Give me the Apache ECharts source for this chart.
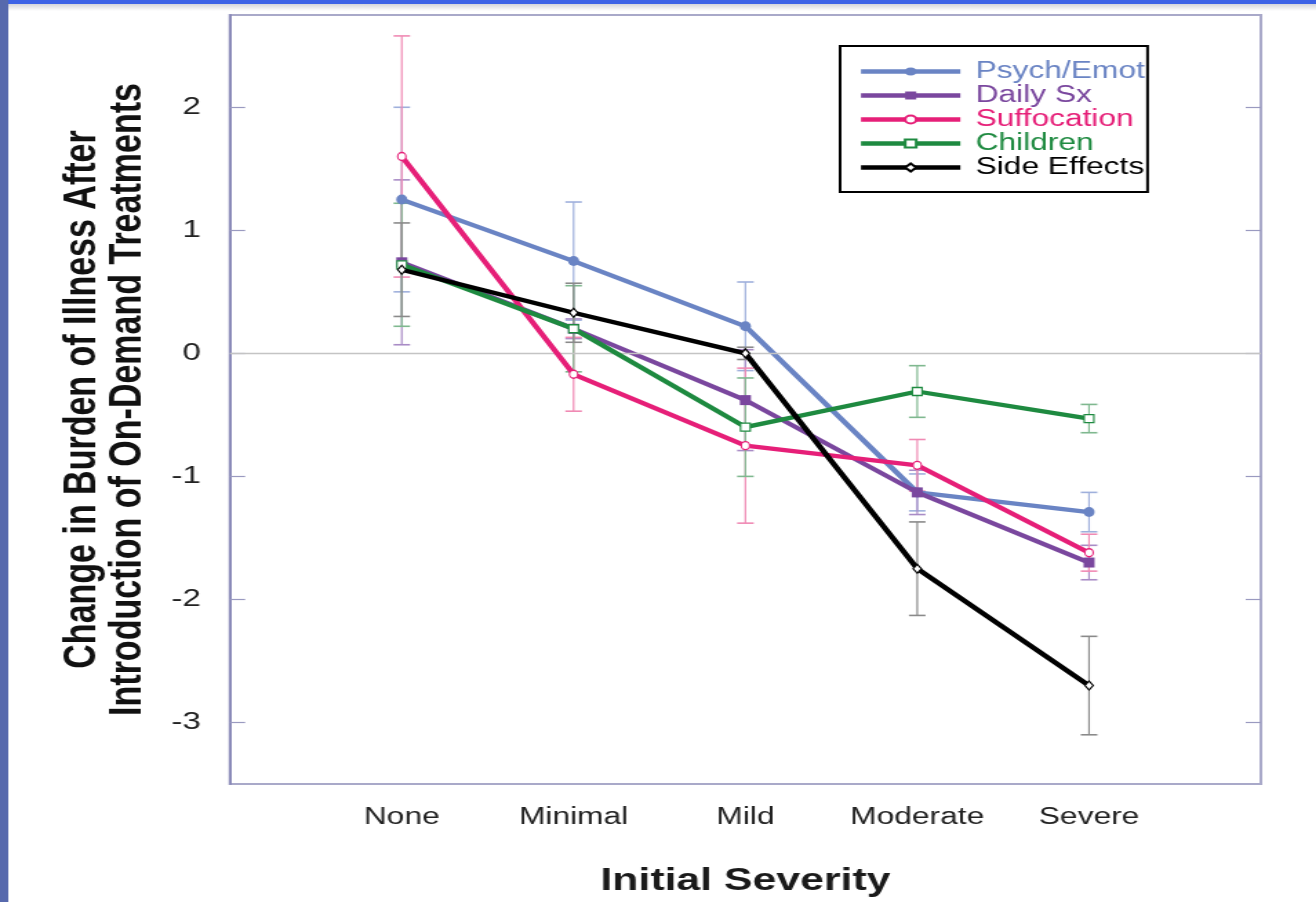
<!DOCTYPE html>
<html>
<head>
<meta charset="utf-8">
<script src="https://cdn.jsdelivr.net/npm/echarts@6/dist/echarts.min.js"></script>
<style>
html,body{margin:0;padding:0;background:#fff;overflow:hidden;width:1316px;height:902px}
#c{width:954px;height:902px;transform:scaleX(1.3795);transform-origin:0 0}
</style>
</head>
<body>
<div id="c"></div>
<script>
const categories = ['None', 'Minimal', 'Mild', 'Moderate', 'Severe'];
const yTicks = [-3, -2, -1, 0, 1, 2];
const seriesNames = ['Psych/Emot', 'Daily Sx', 'Suffocation', 'Children', 'Side Effects'];
const psych = [1.25, 0.75, 0.22, -1.13, -1.29];
const psychErr = [0.75, 0.48, 0.36, 0.15, 0.16];
const daily = [0.74, 0.20, -0.38, -1.13, -1.70];
const dailyErr = [0.67, 0.08, 0.41, 0.18, 0.14];
const suff = [1.60, -0.17, -0.75, -0.91, -1.62];
const suffErr = [0.98, 0.30, 0.63, 0.21, 0.15];
const children = [0.72, 0.20, -0.60, -0.31, -0.53];
const childErr = [0.50, 0.35, 0.40, 0.21, 0.115];
const side = [0.68, 0.33, 0.00, -1.75, -2.70];
const sideErr = [0.38, 0.24, 0.05, 0.38, 0.40];

const values = [psych, daily, suff, children, side];
const errs = [psychErr, dailyErr, suffErr, childErr, sideErr];
const colors = ['#6a84c4', '#7a479e', '#e61f78', '#1e8a40', '#000000'];
const errColors = ['#9fb0dc', '#a98cc6', '#f08ab4', '#7fb88f', '#8a8a8a'];
const symbols = ['circle', 'rect', 'circle', 'rect', 'diamond'];
const hollow = [false, false, true, true, true];
const symbolSizes = [[8, 10], [8, 10], [6, 8], [7, 8], [6, 9]];

const chart = echarts.init(document.getElementById('c'));
const series = [];
values.forEach((vals, i) => {
  series.push({
    type: 'custom',
    name: seriesNames[i] + ' err',
    z: 1,
    silent: true,
    data: vals.map((v, k) => [k + 1, v - errs[i][k], v + errs[i][k]]),
    renderItem: (params, api) => {
      const x = api.value(0);
      const lo = api.coord([x, api.value(1)]);
      const hi = api.coord([x, api.value(2)]);
      const hw = 6;
      const st = { stroke: errColors[i], lineWidth: 1.2 };
      return {
        type: 'group',
        children: [
          { type: 'line', shape: { x1: lo[0], y1: lo[1], x2: hi[0], y2: hi[1] }, style: st },
          { type: 'line', shape: { x1: lo[0] - hw, y1: lo[1], x2: lo[0] + hw, y2: lo[1] }, style: { stroke: errColors[i], lineWidth: 1.6 } },
          { type: 'line', shape: { x1: hi[0] - hw, y1: hi[1], x2: hi[0] + hw, y2: hi[1] }, style: { stroke: errColors[i], lineWidth: 1.6 } }
        ]
      };
    }
  });
});
values.forEach((vals, i) => {
  const s = {
    type: 'line',
    name: seriesNames[i],
    z: 3 + i,
    data: vals.map((v, k) => [k + 1, v]),
    symbol: symbols[i],
    symbolSize: symbolSizes[i],
    showAllSymbol: true,
    color: colors[i],
    lineStyle: { width: 4.3, color: colors[i] },
    itemStyle: { color: hollow[i] ? '#ffffff' : colors[i], borderColor: colors[i], borderWidth: hollow[i] ? 1.2 : 0 },
    emphasis: { disabled: true },
    animation: false
  };
  if (i === 0) {
    s.markLine = {
      silent: true,
      symbol: 'none',
      label: { show: false },
      lineStyle: { color: '#c4c4c4', width: 1.3, type: 'solid' },
      data: [{ yAxis: 0 }]
    };
  }
  series.push(s);
});

chart.setOption({
  animation: false,
  backgroundColor: '#ffffff',
  graphic: [
    { type: 'rect', shape: { x: 0, y: 0, width: 954, height: 4 }, style: { fill: '#3d62e6' }, z: 100 },
    { type: 'rect', shape: { x: 0, y: 4, width: 954, height: 7 }, style: { fill: new echarts.graphic.LinearGradient(0, 0, 0, 1, [{ offset: 0, color: '#d4d4da' }, { offset: 1, color: '#ffffff' }]) }, z: 99 },
    { type: 'rect', shape: { x: 0, y: 0, width: 6, height: 902 }, style: { fill: '#5769ad' }, z: 101 }
  ],
  grid: { left: 166.7, right: 40, top: 15, bottom: 114, show: true, borderColor: '#a9a9c9', borderWidth: 2, backgroundColor: '#ffffff' },
  legend: {
    orient: 'vertical',
    left: 609,
    top: 46,
    padding: [14, 2, 13, 13],
    borderColor: '#000000',
    borderWidth: 2,
    backgroundColor: '#ffffff',
    itemWidth: 72,
    itemHeight: 10,
    itemGap: 1,
    lineStyle: { width: 4.3 },
    data: seriesNames.map((n, i) => ({ name: n, textStyle: { color: colors[i] } })),
    textStyle: { fontFamily: 'Liberation Sans', fontSize: 23, padding: [0, 0, 0, 6] },
    selectedMode: false,
    z: 20
  },
  xAxis: {
    type: 'value',
    min: 0,
    max: 6,
    interval: 1,
    axisLine: { show: false },
    axisTick: { show: false },
    splitLine: { show: false },
    axisLabel: {
      margin: 22,
      fontFamily: 'Liberation Sans',
      fontSize: 23,
      color: '#222222',
      formatter: v => (v >= 1 && v <= 5 ? categories[v - 1] : '')
    },
    name: 'Initial Severity',
    nameLocation: 'middle',
    nameGap: 82,
    nameTextStyle: { fontFamily: 'Liberation Sans', fontSize: 31, fontWeight: 'bold', color: '#1a1a1a' }
  },
  yAxis: [
    {
      type: 'value',
      min: -3.5,
      max: 2.75,
      position: 'left',
      axisLine: { show: true, lineStyle: { color: '#8a8ab8', width: 2 } },
      axisTick: { show: true, inside: true, length: 11, customValues: yTicks, lineStyle: { color: '#9a9ac0', width: 1.2 } },
      splitLine: { show: false },
      axisLabel: { customValues: yTicks, margin: 21, fontFamily: 'Liberation Sans', fontSize: 24, color: '#222222' },
      name: 'Change in Burden of Illness After\nIntroduction of On-Demand Treatments',
      nameLocation: 'middle',
      nameRotate: 90,
      nameGap: 58,
      nameTextStyle: { fontFamily: 'Liberation Sans', fontSize: 34, fontWeight: 'bold', color: '#111111', lineHeight: 33 }
    },
    {
      type: 'value',
      min: -3.5,
      max: 2.75,
      position: 'right',
      axisLine: { show: false },
      axisTick: { show: true, inside: true, length: 11, customValues: yTicks, lineStyle: { color: '#9a9ac0', width: 1.2 } },
      splitLine: { show: false },
      axisLabel: { show: false }
    }
  ],
  series: series
});
</script>
</body>
</html>
